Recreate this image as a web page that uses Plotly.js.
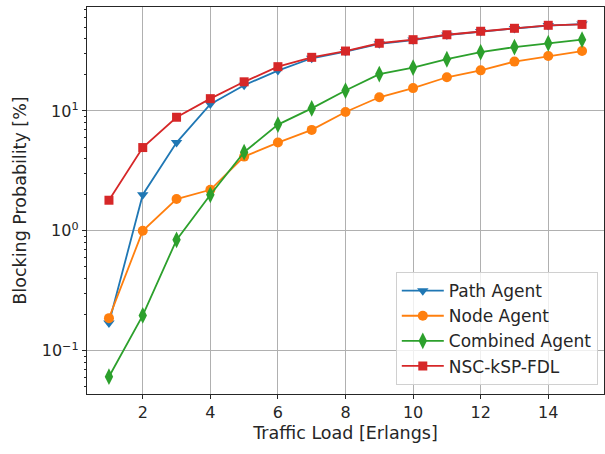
<!DOCTYPE html>
<html>
<head>
<meta charset="utf-8">
<script src="https://cdn.plot.ly/plotly-3.0.1.min.js"></script>
<style>html,body{margin:0;padding:0;background:#fff;}#chart{width:605px;height:454px;}</style>
</head>
<body>
<div id="chart"></div>
<script>
const trafficLoad = [1, 2, 3, 4, 5, 6, 7, 8, 9, 10, 11, 12, 13, 14, 15];
const pathAgent = [0.17, 2.0, 5.45, 11.4, 16.4, 21.7, 27.5, 31.3, 36.3, 39.0, 43.0, 46.0, 48.7, 51.5, 53.0];
const nodeAgent = [0.187, 1.0, 1.84, 2.2, 4.16, 5.45, 6.95, 9.8, 13.0, 15.5, 19.1, 21.8, 25.8, 28.7, 31.6];
const combinedAgent = [0.0607, 0.197, 0.841, 2.0, 4.53, 7.69, 10.5, 14.8, 20.3, 23.0, 27.0, 30.9, 34.1, 36.7, 39.3];
const nscKspFdl = [1.80, 4.95, 8.86, 12.66, 17.5, 23.4, 28.0, 31.6, 36.7, 39.3, 43.2, 46.2, 48.9, 51.8, 52.7];
const seriesNames = ['Path Agent', 'Node Agent', 'Combined Agent', 'NSC-kSP-FDL'];
const xTicks = [2, 4, 6, 8, 10, 12, 14];
const yTickVals = [0.1, 1, 10];
const yTickText = ['10<sup>−1</sup>', '10<sup>0</sup>', '10<sup>1</sup>'];
const yMinorVals = [0.05,0.06,0.07,0.08,0.09,0.2,0.3,0.4,0.5,0.6,0.7,0.8,0.9,2,3,4,5,6,7,8,9,20,30,40,50,60,70];

const FONT = '"DejaVu Sans", sans-serif';
function tr(y, name, color, symbol, size) {
  return {x: trafficLoad, y: y, name: name, type: 'scatter', mode: 'lines+markers',
    line: {color: color, width: 1.8},
    marker: {symbol: symbol, size: size, color: color}};
}
const data = [
  tr(pathAgent, seriesNames[0], '#1f77b4', 'triangle-down', 10),
  tr(nodeAgent, seriesNames[1], '#ff7f0e', 'circle', 10),
  tr(combinedAgent, seriesNames[2], '#2ca02c', 'diamond-tall', 12),
  tr(nscKspFdl, seriesNames[3], '#d62728', 'square', 9),
  {x: [1], y: [1], yaxis: 'y2', showlegend: false, hoverinfo: 'skip', type: 'scatter', mode: 'markers', marker: {opacity: 0}}
];
const yr = [-1.361, 1.867];
const layout = {
  width: 605, height: 454,
  margin: {l: 87, r: 1, t: 7, b: 60},
  paper_bgcolor: '#fff', plot_bgcolor: '#fff',
  font: {family: FONT, size: 17, color: '#262626'},
  showlegend: true,
  legend: {x: 0.988, y: 0.023, xanchor: 'right', yanchor: 'bottom', itemwidth: 42,
    bgcolor: 'rgba(255,255,255,0.8)', bordercolor: '#d0d0d0', borderwidth: 1,
    font: {family: FONT, size: 17, color: '#262626'}, tracegroupgap: 0},
  xaxis: {range: [0.35, 15.65], tickvals: xTicks, ticks: 'outside', ticklen: 4, tickcolor: '#262626',
    showgrid: true, gridcolor: '#b0b0b0', gridwidth: 1, zeroline: false,
    showline: true, linecolor: '#262626', linewidth: 1.2, mirror: true,
    tickfont: {family: FONT, size: 16},
    title: {text: 'Traffic Load [Erlangs]', font: {family: FONT, size: 17.5}, standoff: 5}},
  yaxis: {type: 'log', range: yr, tickvals: yTickVals, ticktext: yTickText,
    ticks: 'outside', ticklen: 4, tickcolor: '#262626',
    showgrid: true, gridcolor: '#b0b0b0', gridwidth: 1, zeroline: false,
    showline: true, linecolor: '#262626', linewidth: 1.2, mirror: true,
    tickfont: {family: FONT, size: 16},
    title: {text: 'Blocking Probability [%]', font: {family: FONT, size: 17.5}, standoff: 10}},
  yaxis2: {type: 'log', range: yr, overlaying: 'y', side: 'left', tickvals: yMinorVals,
    showticklabels: false, ticks: 'outside', ticklen: 2.5, tickcolor: '#262626',
    showgrid: false, zeroline: false, showline: false}
};
Plotly.newPlot('chart', data, layout, {displayModeBar: false, staticPlot: true});
</script>
</body>
</html>
